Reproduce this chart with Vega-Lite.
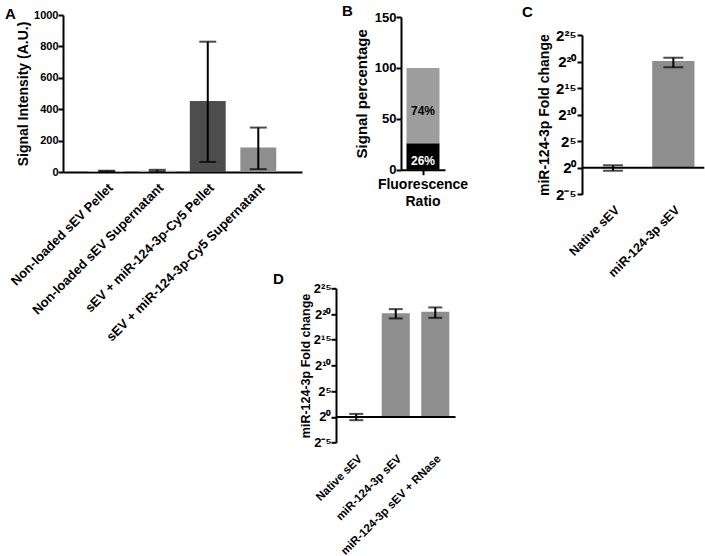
{
  "$schema": "https://vega.github.io/schema/vega-lite/v6.json",
  "background": "white",
  "padding": {"left": 5, "top": 4, "right": 0, "bottom": 0},
  "config": {
    "view": {"stroke": null},
    "font": "Liberation Sans",
    "axis": {"domainColor": "#000", "domainWidth": 2, "tickColor": "#000", "tickWidth": 2, "tickSize": 5, "labelColor": "#000", "labelFont": "Liberation Sans", "labelFontWeight": "bold", "titleFont": "Liberation Sans", "titleFontWeight": "bold", "titleColor": "#000", "grid": false, "labelLimit": 0, "labelOverlap": false, "labelBound": false},
    "title": {"font": "Liberation Sans", "fontWeight": "bold", "fontSize": 15, "anchor": "start", "color": "#000", "offset": 0, "frame": "group"}
  },
  "datasets": {
    "dA": [
      {"group": "Non-loaded sEV Pellet", "mean": 6, "lo": 3, "hi": 8},
      {"group": "Non-loaded sEV Supernatant", "mean": 8, "lo": 2, "hi": 14},
      {"group": "sEV + miR-124-3p-Cy5 Pellet", "mean": 453, "lo": 64, "hi": 830},
      {"group": "sEV + miR-124-3p-Cy5 Supernatant", "mean": 156, "lo": 18, "hi": 283}
    ],
    "dB": [
      {"cat": "Fluorescence Ratio", "part": "Cy5 signal", "value": 26, "label": "26%", "order": 1},
      {"cat": "Fluorescence Ratio", "part": "Other signal", "value": 74, "label": "74%", "order": 2}
    ],
    "dC": [
      {"grp": "Native sEV", "mean": 1, "lo": 0.678, "hi": 1.376},
      {"grp": "miR-124-3p sEV", "mean": 1123836, "lo": 496005, "hi": 1727218}
    ],
    "dD": [
      {"grp": "Native sEV", "mean": 1, "lo": 0.642, "hi": 1.495},
      {"grp": "miR-124-3p sEV", "mean": 1179746, "lo": 577714, "hi": 2025743},
      {"grp": "miR-124-3p sEV + RNase", "mean": 1412641, "lo": 627783, "hi": 2546362}
    ]
  },
  "vconcat": [
    {
      "hconcat": [
        {
          "data": {"name": "dA"},
          "width": 239, "height": 157,
          "title": {"text": "A", "dx": -58, "dy": 16.8},
          "layer": [
            {"mark": {"type": "bar"},
             "encoding": {
               "x": {"field": "group", "type": "nominal", "sort": null, "scale": {"paddingInner": 0.29, "paddingOuter": 0.51}, "axis": {"title": null, "labelAngle": -45, "labelFontSize": 13, "ticks": false, "labelPadding": 9}},
               "y": {"field": "mean", "type": "quantitative", "title": "Signal Intensity (A.U.)", "scale": {"domain": [0, 1000], "nice": false}, "axis": {"values": [0, 200, 400, 600, 800, 1000], "format": "d", "labelFontSize": 11, "titleFontSize": 14, "labelPadding": 0, "titlePadding": 3, "labelOverlap": false, "labelBound": false}},
               "color": {"condition": [
                 {"test": "datum.group == 'sEV + miR-124-3p-Cy5 Pellet'", "value": "#4d4d4d"},
                 {"test": "datum.group == 'sEV + miR-124-3p-Cy5 Supernatant'", "value": "#8e8e8e"}
               ], "value": "#ababab"}
             }},
            {"mark": {"type": "rule", "strokeWidth": 2, "color": "#000"},
             "encoding": {"x": {"field": "group", "type": "nominal", "sort": null}, "y": {"field": "lo", "type": "quantitative", "title": "Signal Intensity (A.U.)", "axis": {"values": [0, 200, 400, 600, 800, 1000], "format": "d", "labelFontSize": 11, "titleFontSize": 14, "labelPadding": 0, "titlePadding": 3, "labelOverlap": false, "labelBound": false}}, "y2": {"field": "hi"}}},
            {"mark": {"type": "tick", "size": 17, "thickness": 2, "color": "#000"},
             "encoding": {"x": {"field": "group", "type": "nominal", "sort": null}, "y": {"field": "lo", "type": "quantitative", "title": "Signal Intensity (A.U.)", "axis": {"values": [0, 200, 400, 600, 800, 1000], "format": "d", "labelFontSize": 11, "titleFontSize": 14, "labelPadding": 0, "titlePadding": 3, "labelOverlap": false, "labelBound": false}}}},
            {"mark": {"type": "tick", "size": 17, "thickness": 2, "color": "#000"},
             "encoding": {"x": {"field": "group", "type": "nominal", "sort": null}, "y": {"field": "hi", "type": "quantitative", "title": "Signal Intensity (A.U.)", "axis": {"values": [0, 200, 400, 600, 800, 1000], "format": "d", "labelFontSize": 11, "titleFontSize": 14, "labelPadding": 0, "titlePadding": 3, "labelOverlap": false, "labelBound": false}}}}
          ]
        },
        {"width": 98.7, "height": 10, "data": {"values": []}, "mark": "point"},
        {
          "vconcat": [
            {"width": 10, "height": 1.6, "data": {"values": []}, "mark": "point"},
            {
              "data": {"name": "dB"},
              "width": 44, "height": 152.7,
              "title": {"text": "B", "dx": -59, "dy": 12.4},
              "transform": [
                {"stack": "value", "groupby": ["cat"], "sort": [{"field": "order", "order": "ascending"}], "as": ["v0", "v1"]},
                {"calculate": "(datum.v0 + datum.v1) / 2", "as": "mid"}
              ],
              "layer": [
                {"mark": {"type": "bar"},
                 "encoding": {
                   "x": {"field": "cat", "type": "nominal", "scale": {"paddingInner": 0, "paddingOuter": 0.167}, "axis": {"title": null, "labelAngle": 0, "labelFontSize": 14, "labelExpr": "split(datum.label, ' ')", "labelLineHeight": 17, "labelPadding": 3}},
                   "y": {"field": "v1", "type": "quantitative", "title": "Signal percentage", "scale": {"domain": [0, 150], "nice": false}, "axis": {"values": [0, 50, 100, 150], "labelFontSize": 13, "titleFontSize": 15, "labelPadding": 0, "titlePadding": 5, "labelOverlap": false, "labelBound": false}},
                   "y2": {"field": "v0"},
                   "color": {"condition": {"test": "datum.order == 1", "value": "#000000"}, "value": "#9e9e9e"}
                 }},
                {"mark": {"type": "text", "fontSize": 12, "fontWeight": "bold", "baseline": "middle", "dy": 5},
                 "encoding": {
                   "x": {"field": "cat", "type": "nominal"},
                   "y": {"field": "mid", "type": "quantitative", "title": "Signal percentage", "axis": {"values": [0, 50, 100, 150], "labelFontSize": 13, "titleFontSize": 15, "labelPadding": 0, "titlePadding": 5, "labelOverlap": false, "labelBound": false}},
                   "text": {"field": "label"},
                   "color": {"condition": {"test": "datum.order == 1", "value": "#ffffff"}, "value": "#000000"}
                 }}
              ]
            }
          ],
          "spacing": 0,
          "bounds": "flush"
        },
        {"width": 181, "height": 10, "data": {"values": []}, "mark": "point"},
        {
          "vconcat": [
            {"width": 10, "height": 19.3, "data": {"values": []}, "mark": "point"},
            {
              "data": {"name": "dC"},
              "width": 122.3, "height": 159.3,
              "title": {"text": "C", "dx": -60, "dy": -4.5},
              "layer": [
                {"mark": {"type": "bar", "color": "#8e8e8e"},
                 "encoding": {
                   "x": {"field": "grp", "type": "nominal", "sort": null, "scale": {"paddingInner": 0.3, "paddingOuter": 0.163}, "axis": {"title": null, "labelAngle": -45, "labelFontSize": 12.5, "ticks": false, "domain": false, "labelPadding": 9}},
                   "y": {"field": "mean", "type": "quantitative", "title": "miR-124-3p Fold change", "scale": {"type": "log", "base": 2, "domain": [0.03125, 33554432], "nice": false}, "axis": {"values": [0.03125, 1, 32, 1024, 32768, 1048576, 33554432], "labelExpr": "datum.value < 0.1 ? '2⁻⁵' : datum.value < 2 ? '2⁰' : datum.value < 40 ? '2⁵' : datum.value < 2000 ? '2¹⁰' : datum.value < 40000 ? '2¹⁵' : datum.value < 2000000 ? '2²⁰' : '2²⁵'", "labelFontSize": 15, "titleFontSize": 14, "labelPadding": 1, "titlePadding": 4, "labelOverlap": false, "labelBound": false}},
                   "y2": {"datum": 1}
                 }},
                {"data": {"values": [{}]}, "mark": {"type": "rule", "strokeWidth": 2, "color": "#000"},
                 "encoding": {"y": {"datum": 1, "type": "quantitative", "title": "miR-124-3p Fold change", "axis": {"values": [0.03125, 1, 32, 1024, 32768, 1048576, 33554432], "labelExpr": "datum.value < 0.1 ? '2⁻⁵' : datum.value < 2 ? '2⁰' : datum.value < 40 ? '2⁵' : datum.value < 2000 ? '2¹⁰' : datum.value < 40000 ? '2¹⁵' : datum.value < 2000000 ? '2²⁰' : '2²⁵'", "labelFontSize": 15, "titleFontSize": 14, "labelPadding": 1, "titlePadding": 4, "labelOverlap": false, "labelBound": false}}}},
                {"mark": {"type": "rule", "strokeWidth": 2, "color": "#000"},
                 "encoding": {"x": {"field": "grp", "type": "nominal", "sort": null}, "y": {"field": "lo", "type": "quantitative", "title": "miR-124-3p Fold change", "axis": {"values": [0.03125, 1, 32, 1024, 32768, 1048576, 33554432], "labelExpr": "datum.value < 0.1 ? '2⁻⁵' : datum.value < 2 ? '2⁰' : datum.value < 40 ? '2⁵' : datum.value < 2000 ? '2¹⁰' : datum.value < 40000 ? '2¹⁵' : datum.value < 2000000 ? '2²⁰' : '2²⁵'", "labelFontSize": 15, "titleFontSize": 14, "labelPadding": 1, "titlePadding": 4, "labelOverlap": false, "labelBound": false}}, "y2": {"field": "hi"}}},
                {"mark": {"type": "tick", "size": 20, "thickness": 2, "color": "#000"},
                 "encoding": {"x": {"field": "grp", "type": "nominal", "sort": null}, "y": {"field": "lo", "type": "quantitative", "title": "miR-124-3p Fold change", "axis": {"values": [0.03125, 1, 32, 1024, 32768, 1048576, 33554432], "labelExpr": "datum.value < 0.1 ? '2⁻⁵' : datum.value < 2 ? '2⁰' : datum.value < 40 ? '2⁵' : datum.value < 2000 ? '2¹⁰' : datum.value < 40000 ? '2¹⁵' : datum.value < 2000000 ? '2²⁰' : '2²⁵'", "labelFontSize": 15, "titleFontSize": 14, "labelPadding": 1, "titlePadding": 4, "labelOverlap": false, "labelBound": false}}}},
                {"mark": {"type": "tick", "size": 20, "thickness": 2, "color": "#000"},
                 "encoding": {"x": {"field": "grp", "type": "nominal", "sort": null}, "y": {"field": "hi", "type": "quantitative", "title": "miR-124-3p Fold change", "axis": {"values": [0.03125, 1, 32, 1024, 32768, 1048576, 33554432], "labelExpr": "datum.value < 0.1 ? '2⁻⁵' : datum.value < 2 ? '2⁰' : datum.value < 40 ? '2⁵' : datum.value < 2000 ? '2¹⁰' : datum.value < 40000 ? '2¹⁵' : datum.value < 2000000 ? '2²⁰' : '2²⁵'", "labelFontSize": 15, "titleFontSize": 14, "labelPadding": 1, "titlePadding": 4, "labelOverlap": false, "labelBound": false}}}}
              ]
            }
          ],
          "spacing": 0,
          "bounds": "flush"
        }
      ],
      "spacing": 0,
      "bounds": "flush"
    },
    {
      "hconcat": [
        {"width": 272.5, "height": 10, "data": {"values": []}, "mark": "point"},
        {
          "data": {"name": "dD"},
          "width": 119.5, "height": 154.3,
          "title": {"text": "D", "dx": -63, "dy": 8.3},
          "layer": [
            {"mark": {"type": "bar", "color": "#8e8e8e"},
             "encoding": {
               "x": {"field": "grp", "type": "nominal", "sort": null, "scale": {"paddingInner": 0.29, "paddingOuter": 0.157}, "axis": {"title": null, "labelAngle": -45, "labelFontSize": 11.5, "ticks": false, "domain": false, "labelPadding": 10}},
               "y": {"field": "mean", "type": "quantitative", "title": "miR-124-3p Fold change", "scale": {"type": "log", "base": 2, "domain": [0.03125, 33554432], "nice": false}, "axis": {"values": [0.03125, 1, 32, 1024, 32768, 1048576, 33554432], "labelExpr": "datum.value < 0.1 ? '2⁻⁵' : datum.value < 2 ? '2⁰' : datum.value < 40 ? '2⁵' : datum.value < 2000 ? '2¹⁰' : datum.value < 40000 ? '2¹⁵' : datum.value < 2000000 ? '2²⁰' : '2²⁵'", "labelFontSize": 13, "titleFontSize": 12.5, "labelPadding": 0, "titlePadding": 1, "labelOverlap": false, "labelBound": false}},
               "y2": {"datum": 1}
             }},
            {"data": {"values": [{}]}, "mark": {"type": "rule", "strokeWidth": 2, "color": "#000"},
             "encoding": {"y": {"datum": 1, "type": "quantitative", "title": "miR-124-3p Fold change", "axis": {"values": [0.03125, 1, 32, 1024, 32768, 1048576, 33554432], "labelExpr": "datum.value < 0.1 ? '2⁻⁵' : datum.value < 2 ? '2⁰' : datum.value < 40 ? '2⁵' : datum.value < 2000 ? '2¹⁰' : datum.value < 40000 ? '2¹⁵' : datum.value < 2000000 ? '2²⁰' : '2²⁵'", "labelFontSize": 13, "titleFontSize": 12.5, "labelPadding": 0, "titlePadding": 1, "labelOverlap": false, "labelBound": false}}}},
            {"mark": {"type": "rule", "strokeWidth": 2, "color": "#000"},
             "encoding": {"x": {"field": "grp", "type": "nominal", "sort": null}, "y": {"field": "lo", "type": "quantitative", "title": "miR-124-3p Fold change", "axis": {"values": [0.03125, 1, 32, 1024, 32768, 1048576, 33554432], "labelExpr": "datum.value < 0.1 ? '2⁻⁵' : datum.value < 2 ? '2⁰' : datum.value < 40 ? '2⁵' : datum.value < 2000 ? '2¹⁰' : datum.value < 40000 ? '2¹⁵' : datum.value < 2000000 ? '2²⁰' : '2²⁵'", "labelFontSize": 13, "titleFontSize": 12.5, "labelPadding": 0, "titlePadding": 1, "labelOverlap": false, "labelBound": false}}, "y2": {"field": "hi"}}},
            {"mark": {"type": "tick", "size": 14, "thickness": 2, "color": "#000"},
             "encoding": {"x": {"field": "grp", "type": "nominal", "sort": null}, "y": {"field": "lo", "type": "quantitative", "title": "miR-124-3p Fold change", "axis": {"values": [0.03125, 1, 32, 1024, 32768, 1048576, 33554432], "labelExpr": "datum.value < 0.1 ? '2⁻⁵' : datum.value < 2 ? '2⁰' : datum.value < 40 ? '2⁵' : datum.value < 2000 ? '2¹⁰' : datum.value < 40000 ? '2¹⁵' : datum.value < 2000000 ? '2²⁰' : '2²⁵'", "labelFontSize": 13, "titleFontSize": 12.5, "labelPadding": 0, "titlePadding": 1, "labelOverlap": false, "labelBound": false}}}},
            {"mark": {"type": "tick", "size": 14, "thickness": 2, "color": "#000"},
             "encoding": {"x": {"field": "grp", "type": "nominal", "sort": null}, "y": {"field": "hi", "type": "quantitative", "title": "miR-124-3p Fold change", "axis": {"values": [0.03125, 1, 32, 1024, 32768, 1048576, 33554432], "labelExpr": "datum.value < 0.1 ? '2⁻⁵' : datum.value < 2 ? '2⁰' : datum.value < 40 ? '2⁵' : datum.value < 2000 ? '2¹⁰' : datum.value < 40000 ? '2¹⁵' : datum.value < 2000000 ? '2²⁰' : '2²⁵'", "labelFontSize": 13, "titleFontSize": 12.5, "labelPadding": 0, "titlePadding": 1, "labelOverlap": false, "labelBound": false}}}}
          ]
        }
      ],
      "spacing": 0,
      "bounds": "flush"
    }
  ],
  "spacing": 273.3,
  "bounds": "flush"
}
